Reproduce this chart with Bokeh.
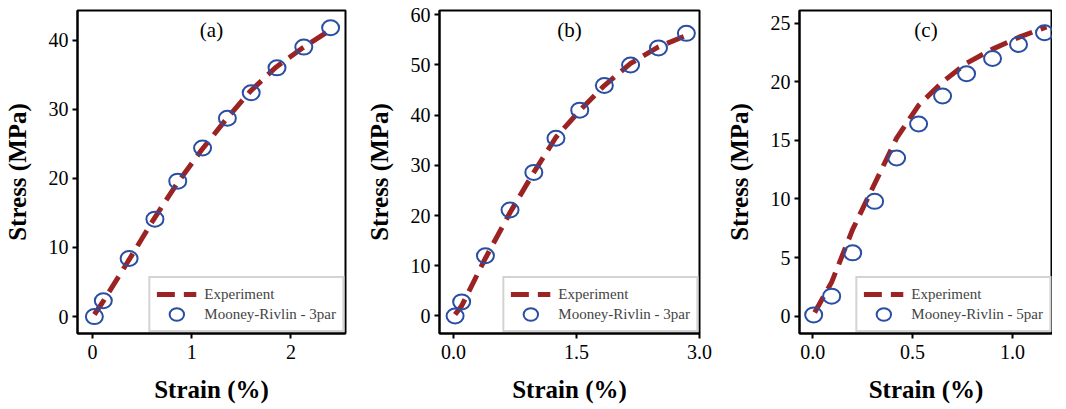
from bokeh.plotting import figure
from bokeh.layouts import row
from bokeh.models import Legend, LegendItem, Label, FixedTicker, PrintfTickFormatter, Range1d
from bokeh.embed import file_html
from bokeh.resources import INLINE

# ---- data ----
# Panel (a)
a_exp_x = [0.02, 0.10, 0.36, 0.61, 0.85, 1.10, 1.35, 1.59, 1.85, 2.12, 2.40]
a_exp_y = [0.3, 2.0, 8.0, 13.9, 19.2, 24.1, 28.6, 32.6, 36.1, 38.9, 41.5]
a_mr_x = [0.02, 0.11, 0.37, 0.63, 0.86, 1.11, 1.36, 1.60, 1.86, 2.13, 2.40]
a_mr_y = [0.0, 2.3, 8.4, 14.1, 19.6, 24.4, 28.7, 32.4, 36.0, 39.0, 41.8]

# Panel (b)
b_exp_x = [0.02, 0.10, 0.39, 0.69, 0.98, 1.25, 1.54, 1.84, 2.16, 2.50, 2.84]
b_exp_y = [0.3, 2.0, 11.5, 20.6, 28.6, 35.6, 40.9, 45.9, 50.3, 53.6, 55.9]
b_mr_x = [0.02, 0.10, 0.39, 0.69, 0.98, 1.25, 1.54, 1.84, 2.16, 2.50, 2.84]
b_mr_y = [0.0, 2.8, 12.0, 21.1, 28.6, 35.4, 41.0, 45.9, 50.0, 53.4, 56.3]

# Panel (c)
c_exp_x = [0.01, 0.095, 0.20, 0.31, 0.42, 0.53, 0.65, 0.77, 0.90, 1.03, 1.17]
c_exp_y = [0.3, 2.9, 7.4, 11.3, 15.2, 18.0, 20.0, 21.6, 22.8, 23.8, 24.7]
c_mr_x = [0.005, 0.095, 0.20, 0.31, 0.42, 0.53, 0.65, 0.77, 0.90, 1.03, 1.16]
c_mr_y = [0.1, 1.7, 5.4, 9.8, 13.5, 16.4, 18.8, 20.7, 22.0, 23.2, 24.2]

panel_labels = ["(a)", "(b)", "(c)"]
legend_labels = ["Experiment", "Mooney-Rivlin - 3par", "Mooney-Rivlin - 3par", "Mooney-Rivlin - 5par"]
x_ticks_a = [0, 1, 2]
x_ticks_b = [0.0, 1.5, 3.0]
x_ticks_c = [0.0, 0.5, 1.0]
y_ticks_a = [0, 10, 20, 30, 40]
y_ticks_b = [0, 10, 20, 30, 40, 50, 60]
y_ticks_c = [0, 5, 10, 15, 20, 25]

FONT = "Liberation Serif"
RED = "#9b2323"
BLUE = "#2a4ea3"


def make_panel(ex, ey, mx, my, xr, yr, xticks, yticks, xfmt, tag, mr_label,
               width, border_left, border_right):
    p = figure(width=width, height=405, output_backend="svg", toolbar_location=None,
               x_range=Range1d(*xr), y_range=Range1d(*yr),
               min_border_left=border_left, min_border_right=border_right,
               min_border_top=10, min_border_bottom=70)
    p.grid.visible = False
    p.outline_line_color = "black"
    p.outline_line_width = 2
    p.background_fill_color = "white"
    p.border_fill_color = "white"

    l = p.line(ex, ey, line_color=RED, line_width=5, line_dash="18 9")
    s = p.ellipse(mx, my, width=17, height=15, width_units="screen", height_units="screen",
                  fill_color=None, line_color=BLUE, line_width=2)

    for ax in (p.xaxis[0], p.yaxis[0]):
        ax.axis_line_width = 2
        ax.major_tick_line_width = 2
        ax.major_tick_out = 5
        ax.major_tick_in = 0
        ax.minor_tick_line_color = None
        ax.major_label_text_font = FONT
        ax.major_label_text_font_size = "20px"
        ax.major_label_text_color = "black"
        ax.axis_label_text_font = FONT
        ax.axis_label_text_font_style = "bold"
        ax.axis_label_text_font_size = "25px"
        ax.axis_label_text_color = "black"
    p.xaxis.ticker = FixedTicker(ticks=xticks)
    p.yaxis.ticker = FixedTicker(ticks=yticks)
    if xfmt:
        p.xaxis.formatter = PrintfTickFormatter(format=xfmt)
    p.xaxis.axis_label = "Strain (%)"
    p.yaxis.axis_label = "Stress (MPa)"
    p.xaxis.major_label_standoff = 6
    p.yaxis.major_label_standoff = 4
    p.xaxis.axis_label_standoff = 14
    p.yaxis.axis_label_standoff = 15

    legend = Legend(items=[LegendItem(label=legend_labels[0], renderers=[l]),
                           LegendItem(label=mr_label, renderers=[s])],
                    location="bottom_right")
    legend.label_text_font = FONT
    legend.label_text_font_size = "15px"
    legend.glyph_width = 40
    legend.glyph_height = 18
    legend.label_height = 20
    legend.spacing = 0
    legend.padding = 6
    legend.margin = 1
    legend.label_standoff = 8
    legend.border_line_color = "#a8a8a8"
    legend.border_line_width = 2
    legend.background_fill_color = "white"
    legend.background_fill_alpha = 1
    p.add_layout(legend)

    p.add_layout(Label(x=(xr[0] + xr[1]) / 2, y=yr[1], text=tag, text_align="center",
                       text_baseline="top", y_offset=-7, text_font=FONT,
                       text_font_size="21px", text_color="black"))
    return p


pa = make_panel(a_exp_x, a_exp_y, a_mr_x, a_mr_y, (-0.15, 2.55), (-2.45, 44.3),
                x_ticks_a, y_ticks_a, None, panel_labels[0], legend_labels[1], 360, 71, 15)
pb = make_panel(b_exp_x, b_exp_y, b_mr_x, b_mr_y, (-0.17, 3.0), (-3.5, 60.85),
                x_ticks_b, y_ticks_b, "%.1f", panel_labels[1], legend_labels[2], 360, 79, 21)
pc = make_panel(c_exp_x, c_exp_y, c_mr_x, c_mr_y, (-0.066, 1.2), (-1.49, 26.1),
                x_ticks_c, y_ticks_c, "%.1f", panel_labels[2], legend_labels[3], 332, 79, 0)

layout = row(pa, pb, pc)
open("out.html", "w").write(file_html(layout, INLINE))
